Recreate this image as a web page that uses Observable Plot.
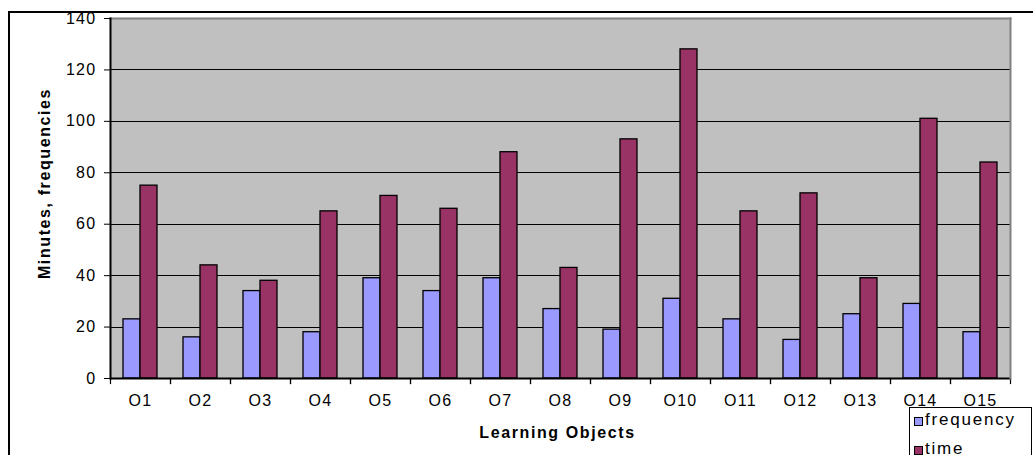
<!DOCTYPE html>
<html>
<head>
<meta charset="utf-8">
<script src="https://cdn.jsdelivr.net/npm/d3@7"></script>
<script src="https://cdn.jsdelivr.net/npm/@observablehq/plot@0.6"></script>
<style>
html, body { margin: 0; padding: 0; background: #fff; }
#wrap { position: relative; width: 1033px; height: 455px; overflow: hidden; font-family: "Liberation Sans", Arial, sans-serif; background: #fff; }
#wrap svg { position: absolute; left: 0; top: 0; }
#wrap svg text { letter-spacing: 1.3px; }
#wrap svg g[font-weight="bold"] text { letter-spacing: 1.6px; }
#border { position: absolute; left: 8px; top: 11px; width: 1100px; height: 600px; border-left: 2px solid #000; border-top: 2px solid #000; pointer-events: none; }
#legend { position: absolute; left: 909px; top: 407px; width: 121px; height: 80px; border: 1px solid #000; background: #fff; }
#legend .sw { position: absolute; left: 4px; width: 9px; height: 9px; box-sizing: border-box; border: 1px solid #000; }
#legend .lb { position: absolute; left: 15px; font-size: 17px; line-height: 17px; letter-spacing: 1.8px; color: #000; white-space: nowrap; }
</style>
</head>
<body>
<div id="wrap">
  <div id="chart"></div>
  <div id="border"></div>
  <div id="legend"></div>
</div>
<script>
const categories = ["O1","O2","O3","O4","O5","O6","O7","O8","O9","O10","O11","O12","O13","O14","O15"];
const seriesNames = ["frequency", "time"];
const frequency = [23, 16, 34, 18, 39, 34, 39, 27, 19, 31, 23, 15, 25, 29, 18];
const time = [75, 44, 38, 65, 71, 66, 88, 43, 93, 128, 65, 72, 39, 101, 84];
const yTicks = [0, 20, 40, 60, 80, 100, 120, 140];
const gridTicks = [20, 40, 60, 80, 100, 120];
const seriesColors = ["#9999FF", "#993366"];
const xTitle = "Learning Objects";
const yTitle = "Minutes, frequencies";

const data = categories.flatMap((c, i) => [
  {cat: c, series: seriesNames[0], value: frequency[i]},
  {cat: c, series: seriesNames[1], value: time[i]}
]);

const W = 1033, H = 455, MT = 18, MB = 77, ML = 106, MR = 19;
const plotH = H - MT - MB;

const chart = Plot.plot({
  width: W, height: H,
  marginLeft: ML, marginRight: MR, marginTop: MT, marginBottom: MB,
  style: {fontFamily: "'Liberation Sans', Arial, sans-serif", fontSize: "16px", background: "transparent", overflow: "visible", color: "#000"},
  fx: {domain: categories, padding: 0, label: null},
  x: {domain: seriesNames, paddingInner: 0, paddingOuter: 0.68, axis: null},
  y: {domain: [0, 140], axis: null},
  color: {domain: seriesNames, range: seriesColors},
  marks: [
    Plot.frame({fill: "#C0C0C0", shapeRendering: "crispEdges"}),
    Plot.gridY(gridTicks, {stroke: "#000", strokeOpacity: 1, strokeWidth: 1, shapeRendering: "crispEdges"}),
    Plot.barY(data, {fx: "cat", x: "series", y: "value", fill: "series", stroke: "#000", strokeWidth: 1.3}),
    Plot.ruleY([0], {stroke: "#000", strokeWidth: 2}),
    Plot.frame({anchor: "left", stroke: "#000", strokeWidth: 1.2, insetTop: plotH, insetBottom: -5}),
    Plot.frame({anchor: "right", stroke: "#000", strokeWidth: 1.2, insetTop: plotH, insetBottom: -5}),
    Plot.frame({facet: "super", anchor: "top", stroke: "#808080", strokeWidth: 2}),
    Plot.frame({facet: "super", anchor: "right", stroke: "#808080", strokeWidth: 2}),
    Plot.frame({facet: "super", anchor: "left", stroke: "#000", strokeWidth: 2}),
    Plot.axisY(yTicks, {anchor: "left", tickSize: 6, tickPadding: 8, label: null, stroke: "#000", fill: "#000"}),
    Plot.axisFx({anchor: "bottom", tickSize: 0, tickPadding: 16.5, label: null, fill: "#000"}),
    Plot.text([xTitle], {facet: "super", frameAnchor: "bottom", lineAnchor: "middle", textAnchor: "middle", dy: 54, dx: -3, fontWeight: "bold", fill: "#000"}),
    Plot.text([yTitle], {facet: "super", frameAnchor: "left", lineAnchor: "middle", textAnchor: "middle", rotate: -90, dx: -66, dy: -15, fontWeight: "bold", fill: "#000"})
  ]
});
document.getElementById("chart").appendChild(chart);

// legend
const legend = document.getElementById("legend");
const rowTops = [9, 38];
seriesNames.forEach((name, i) => {
  const sw = document.createElement("div");
  sw.className = "sw";
  sw.style.top = rowTops[i] + "px";
  sw.style.background = seriesColors[i];
  legend.appendChild(sw);
  const lb = document.createElement("div");
  lb.className = "lb";
  lb.style.top = (rowTops[i] - 6.4) + "px";
  lb.textContent = name;
  legend.appendChild(lb);
});
</script>
</body>
</html>
